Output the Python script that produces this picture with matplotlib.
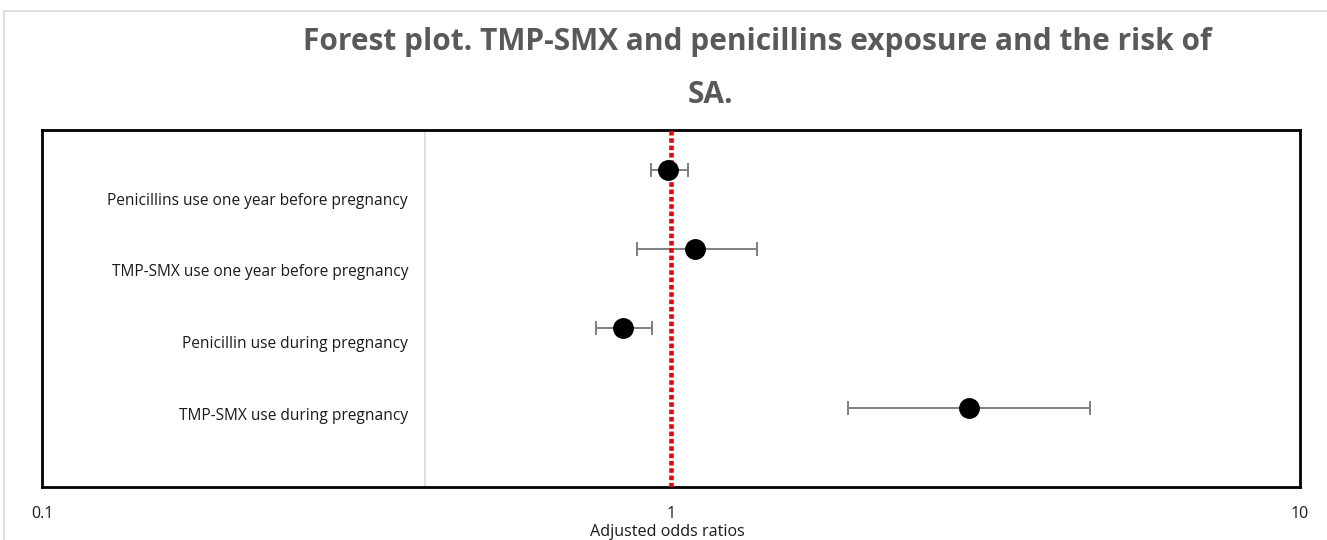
import numpy as np
import matplotlib.pyplot as plt
from matplotlib.patches import Rectangle

plt.rcParams['font.family'] = ['Open Sans', 'DejaVu Sans']

# forest plot data
labels = ['Penicillins use one year before pregnancy',
          'TMP-SMX use one year before pregnancy',
          'Penicillin use during pregnancy',
          'TMP-SMX use during pregnancy']
odds = [0.99, 1.092, 0.839, 2.98]
ci_low = [0.929, 0.883, 0.760, 1.91]
ci_high = [1.064, 1.37, 0.933, 4.63]
ypos = [4, 3, 2, 1]
xticks = [0.1, 1, 10]
xticklabels = ['0.1', '1', '10']

fig = plt.figure(figsize=(13.27, 5.4), dpi=100)
# light frame around the whole picture
fig.patches.append(Rectangle((4 / 1327, -0.1), 1.1, 1 - 11 / 540 + 0.1,
                             transform=fig.transFigure, fill=False,
                             edgecolor='#d9d9d9', linewidth=1.2))

ax = fig.add_axes([42 / 1327, 1 - 487 / 540, 1258 / 1327, 357 / 540])
ax.set_xscale('log')
ax.set_xlim(0.1, 10)
ax.set_ylim(0, 4.5)

o = np.array(odds)
err = [o - np.array(ci_low), np.array(ci_high) - o]
ax.errorbar(odds, ypos, xerr=err, fmt='none', ecolor='#7f7f7f',
            elinewidth=1.4, capsize=5, capthick=1.4, zorder=2)
ax.plot(odds, ypos, 'o', color='black', markersize=14, zorder=4)

ax.axvline(1, color='#e8000b', linestyle=(0, (1, 0.6)), linewidth=3.3, zorder=3)
# separator between labels and plot area
ax.plot([0.3045, 0.3045], [0, 1], transform=ax.transAxes,
        color='#d9d9d9', linewidth=1.2, zorder=1)

for lab, yy in zip(labels, np.linspace(3.61, 0.9, 4)):
    ax.text(0.291, yy, lab, transform=ax.get_yaxis_transform(),
            ha='right', va='center', fontsize=11.2, color='#1a1a1a')

ax.set_yticks([])
ax.set_xticks(xticks)
ax.set_xticklabels(xticklabels, fontsize=11.5, color='#1a1a1a')
ax.xaxis.set_minor_locator(plt.NullLocator())
ax.tick_params(axis='x', length=0, pad=14)
for s in ax.spines.values():
    s.set_linewidth(2)
    s.set_color('black')

fig.text(757 / 1327, 1 - 42 / 540, 'Forest plot. TMP-SMX and penicillins exposure and the risk of',
         ha='center', va='center', fontsize=21.5, fontweight='bold', color='#595959')
fig.text(710 / 1327, 1 - 95 / 540, 'SA.',
         ha='center', va='center', fontsize=21.5, fontweight='bold', color='#595959')
fig.text(667 / 1327, 1 - 532 / 540, 'Adjusted odds ratios',
         ha='center', va='center', fontsize=11.6, color='#1a1a1a')

fig.savefig('out.png', dpi=100)
